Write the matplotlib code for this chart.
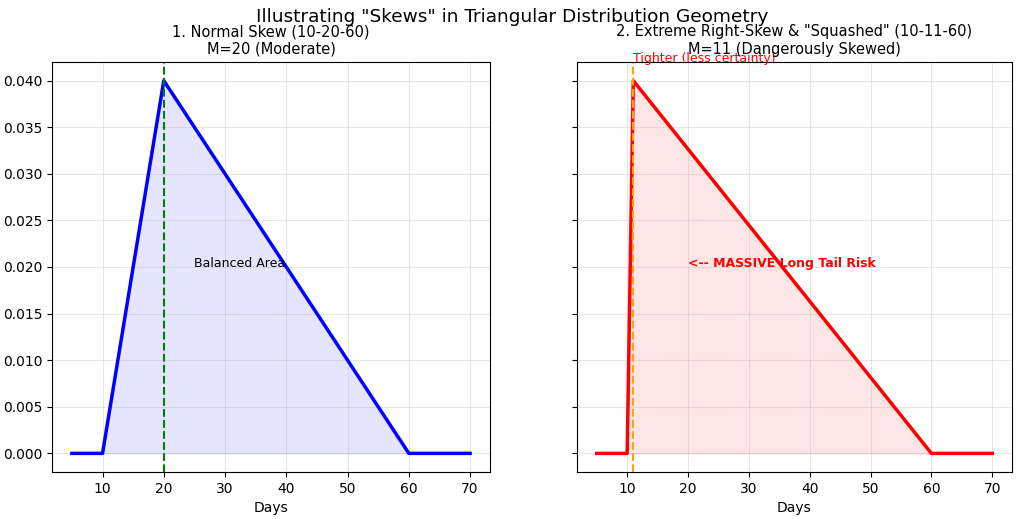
import matplotlib
matplotlib.use("Agg")
import matplotlib.pyplot as plt
import numpy as np

x_days = [5, 10, 20, 60, 70]
pdf_normal = [0.0, 0.0, 0.04, 0.0, 0.0]
x_days_skew = [5, 10, 11, 60, 70]
pdf_skew = [0.0, 0.0, 0.04, 0.0, 0.0]
mode_normal = 20
mode_skew = 11

fig = plt.figure(figsize=(10.24, 5.19), dpi=100)
ax1 = fig.add_axes([52/1024, 1-472/519, (490-52)/1024, (472-62)/519])
ax2 = fig.add_axes([577/1024, 1-472/519, (1012-577)/1024, (472-62)/519], sharey=ax1)

ax1.plot(x_days, pdf_normal, color='blue', lw=2.5)
ax1.fill_between(x_days, pdf_normal, color='blue', alpha=0.1)
ax1.axvline(mode_normal, color='green', ls='--', lw=1.5)
ax1.set_title('1. Normal Skew (10-20-60)\nM=20 (Moderate)', fontsize=10.5)
ax1.text(25, 0.02, 'Balanced Area', fontsize=9)
ax1.set_xlabel('Days')
ax1.grid(True, alpha=0.3)

ax2.plot(x_days_skew, pdf_skew, color='red', lw=2.5)
ax2.fill_between(x_days_skew, pdf_skew, color='red', alpha=0.1)
ax2.axvline(mode_skew, color='orange', ls='--', lw=1.5)
ax2.set_title('2. Extreme Right-Skew & "Squashed" (10-11-60)\nM=11 (Dangerously Skewed)', fontsize=10.5)
ax2.text(11, 0.042, 'Tighter (less certainty)', color='red', fontsize=9)
ax2.text(20, 0.02, '<-- MASSIVE Long Tail Risk', color='red', fontsize=9, fontweight='bold')
ax2.set_xlabel('Days')
ax2.grid(True, alpha=0.3)
plt.setp(ax2.get_yticklabels(), visible=False)

ax1.set_yticks(np.arange(0, 0.0401, 0.005))
fig.suptitle('Illustrating "Skews" in Triangular Distribution Geometry', fontsize=13.3, y=0.984)

fig.savefig('out.png', dpi=100)
